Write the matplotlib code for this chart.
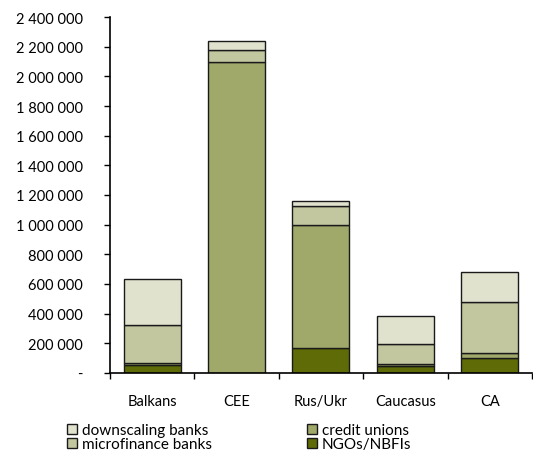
import numpy as np
import matplotlib.pyplot as plt
from matplotlib.ticker import FuncFormatter

plt.rcParams['font.family'] = ['Lato', 'DejaVu Sans']

regions = ['Balkans', 'CEE', 'Rus/Ukr', 'Caucasus', 'CA']
ngos = [50000, 0, 170000, 47000, 97000]
credit_unions = [15000, 2100000, 830000, 13000, 36000]
mf_banks = [255000, 75000, 125000, 135000, 346000]
downscaling = [310000, 65000, 35000, 185000, 202000]

colors = {
    'NGOs/NBFIs': '#5f6b06',
    'credit unions': '#a0a86a',
    'microfinance banks': '#c2c7a0',
    'downscaling banks': '#e0e2cd',
}

fig = plt.figure(figsize=(5.33, 4.52), dpi=100)
ax = fig.add_axes([0.206, 0.173, 0.792, 0.787])

x = np.arange(len(regions))
w = 0.675
bottom = np.zeros(len(regions))
bars = {}
for name, vals in [('NGOs/NBFIs', ngos), ('credit unions', credit_unions),
                   ('microfinance banks', mf_banks), ('downscaling banks', downscaling)]:
    vals = np.array(vals, dtype=float)
    bars[name] = ax.bar(x, vals, w, bottom=bottom, color=colors[name],
                        edgecolor='#1a1a1a', linewidth=1.0)
    bottom += vals

ax.set_xlim(-0.5, len(regions) - 0.5)
ax.set_ylim(0, 2400000)
ax.set_yticks(np.arange(0, 2400001, 200000))

def fmt(v, pos):
    if v == 0:
        return '-'
    return '{:,.0f}'.format(v).replace(',', ' ')

ax.yaxis.set_major_formatter(FuncFormatter(fmt))
ax.set_xticks(np.arange(-0.5, len(regions), 1.0))
ax.set_xticklabels([])
ax.set_xticks(x, minor=True)
ax.set_xticklabels(regions, minor=True)
ax.tick_params(axis='x', which='minor', length=0, pad=15, labelsize=10.5)
ax.tick_params(axis='x', which='major', length=4.5, width=1, direction='out')
ax.tick_params(axis='y', length=4.5, width=1, direction='out', labelsize=10.5, pad=15)

for s in ['top', 'right']:
    ax.spines[s].set_visible(False)
for s in ['left', 'bottom']:
    ax.spines[s].set_linewidth(1.2)

order = ['downscaling banks', 'microfinance banks', 'credit unions', 'NGOs/NBFIs']
fig.legend([bars[k] for k in order], order, ncol=2, loc='upper left',
           bbox_to_anchor=(0.112, 0.078), frameon=False, fontsize=11,
           handlelength=0.65, handleheight=0.65, handletextpad=0.3,
           columnspacing=6.25, labelspacing=0.0, borderpad=0)

fig.savefig('out.png', dpi=100)
